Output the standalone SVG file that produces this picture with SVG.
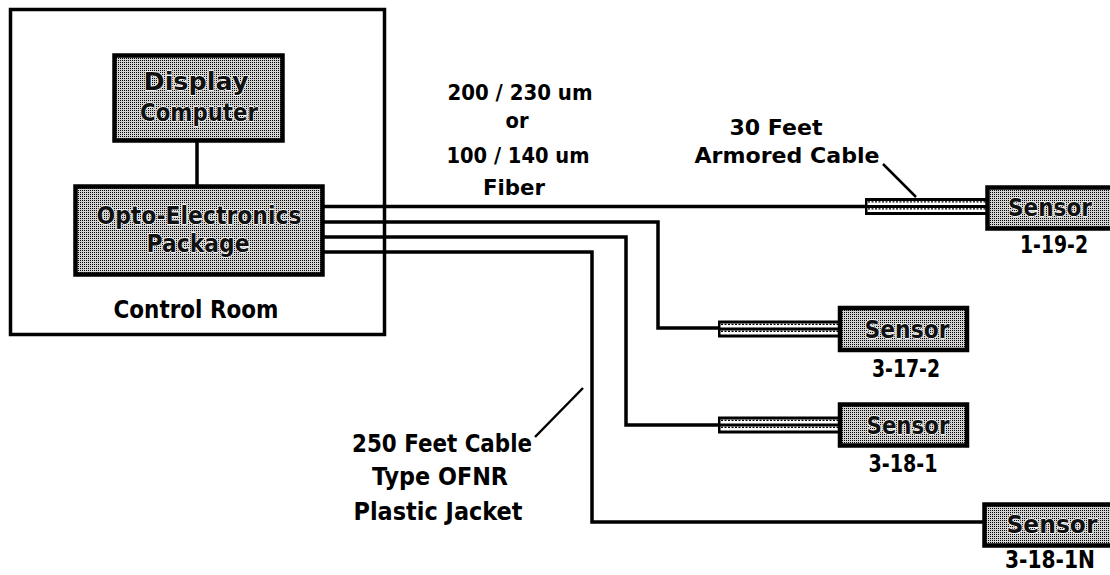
<svg xmlns="http://www.w3.org/2000/svg" width="1110" height="575" viewBox="0 0 1110 575">
<style>
  .bg{fill:#ffffff}
  .frame{fill:none;stroke:#000;stroke-width:3.5}
  .box{fill:url(#dither);stroke:#000;stroke-width:4.5}
  .wire{fill:none;stroke:#000;stroke-width:3.5;stroke-linejoin:miter;stroke-linecap:square}
  .leader{fill:none;stroke:#000;stroke-width:2.5}
  .t{font-family:"DejaVu Sans","Liberation Sans",sans-serif;font-weight:bold;font-size:24px;fill:#000;text-anchor:middle}
  .tight{font-size:22px}
  .s{font-size:23px}
  .in{font-family:"DejaVu Sans","Liberation Sans",sans-serif;font-weight:bold;font-size:24px;fill:#111;text-anchor:middle;stroke:#fff;stroke-width:1.5;paint-order:stroke;stroke-linejoin:round}
  .arm-out{fill:#000}
  .arm-in{fill:#fff}
  .arm-wave{fill:none;stroke:#000;stroke-width:1.2;stroke-dasharray:2 1.5}
</style>
<defs>
  <pattern id="dither" width="2" height="2" patternUnits="userSpaceOnUse">
    <rect width="2" height="2" fill="#d2d2d2"/>
    <rect width="1" height="1" fill="#000"/>
  </pattern>
  <g id="armored">
    <rect class="arm-out" x="0" y="0" width="122" height="17"/>
    <rect class="arm-in" x="2.5" y="3" width="119.5" height="4"/>
    <rect class="arm-in" x="2.5" y="10" width="119.5" height="4"/>
    <line class="arm-wave" x1="3" y1="3.9" x2="122" y2="3.9"/>
    <line class="arm-wave" x1="3" y1="10.9" x2="122" y2="10.9"/>
  </g>
</defs>
<rect class="bg" x="0" y="0" width="1110" height="575"/>

<g id="control-room">
  <rect class="frame" x="10.5" y="9.5" width="374" height="325"/>
  <text class="t" x="196" y="318" textLength="165" lengthAdjust="spacingAndGlyphs">Control Room</text>
</g>

<g id="connectors">
  <line class="wire" x1="197" y1="142" x2="197" y2="185"/>
  <polyline class="wire" points="325,206.5 866,206.5"/>
  <polyline class="wire" points="325,222 658,222 658,328 718,328"/>
  <polyline class="wire" points="325,237 626,237 626,425 718,425"/>
  <polyline class="wire" points="325,252 592,252 592,522 984,522"/>
  <line class="leader" x1="883" y1="164" x2="916" y2="197"/>
  <line class="leader" x1="535" y1="437" x2="583" y2="388"/>
</g>

<g id="display-computer">
  <rect class="box" x="114.5" y="55.5" width="168" height="85"/>
  <text class="in" x="196" y="90" textLength="105" lengthAdjust="spacingAndGlyphs">Display</text>
  <text class="in" x="199" y="121" textLength="118" lengthAdjust="spacingAndGlyphs">Computer</text>
</g>

<g id="opto-electronics">
  <rect class="box" x="75.5" y="186.5" width="247" height="88"/>
  <text class="in" x="199" y="224" textLength="205" lengthAdjust="spacingAndGlyphs">Opto-Electronics</text>
  <text class="in" x="198" y="252" textLength="103" lengthAdjust="spacingAndGlyphs">Package</text>
</g>

<g id="fiber-label">
  <text class="t tight" x="520" y="100" textLength="145" lengthAdjust="spacingAndGlyphs">200 / 230 um</text>
  <text class="t tight" x="517" y="128" textLength="23" lengthAdjust="spacingAndGlyphs">or</text>
  <text class="t tight" x="518" y="163" textLength="143" lengthAdjust="spacingAndGlyphs">100 / 140 um</text>
  <text class="t tight" x="514" y="195" textLength="62" lengthAdjust="spacingAndGlyphs">Fiber</text>
</g>

<g id="armored-label">
  <text class="t tight" x="776" y="135" textLength="93" lengthAdjust="spacingAndGlyphs">30 Feet</text>
  <text class="t tight" x="787" y="163" textLength="185" lengthAdjust="spacingAndGlyphs">Armored Cable</text>
</g>

<g id="cable-label">
  <text class="t" x="442" y="452" textLength="180" lengthAdjust="spacingAndGlyphs">250 Feet Cable</text>
  <text class="t" x="440" y="485" textLength="136" lengthAdjust="spacingAndGlyphs">Type OFNR</text>
  <text class="t" x="438" y="520" textLength="169" lengthAdjust="spacingAndGlyphs">Plastic Jacket</text>
</g>

<g id="sensor-1-19-2">
  <use href="#armored" x="865" y="198"/>
  <rect class="box" x="987.5" y="187.5" width="140" height="41"/>
  <text class="in s" x="1050" y="216" textLength="84" lengthAdjust="spacingAndGlyphs">Sensor</text>
  <text class="t" x="1054" y="253" textLength="68" lengthAdjust="spacingAndGlyphs">1-19-2</text>
</g>

<g id="sensor-3-17-2">
  <use href="#armored" x="718" y="320.5"/>
  <rect class="box" x="840" y="308" width="127" height="42"/>
  <text class="in s" x="907" y="338" textLength="85" lengthAdjust="spacingAndGlyphs">Sensor</text>
  <text class="t" x="906" y="377" textLength="68" lengthAdjust="spacingAndGlyphs">3-17-2</text>
</g>

<g id="sensor-3-18-1">
  <use href="#armored" x="718" y="416.5"/>
  <rect class="box" x="840" y="404.5" width="127" height="41"/>
  <text class="in s" x="908" y="434" textLength="83" lengthAdjust="spacingAndGlyphs">Sensor</text>
  <text class="t" x="903" y="472" textLength="69" lengthAdjust="spacingAndGlyphs">3-18-1</text>
</g>

<g id="sensor-3-18-1N">
  <rect class="box" x="984.5" y="504.5" width="140" height="41"/>
  <text class="in s" x="1052" y="533" textLength="91" lengthAdjust="spacingAndGlyphs">Sensor</text>
  <text class="t" x="1050" y="568" textLength="90" lengthAdjust="spacingAndGlyphs">3-18-1N</text>
</g>
</svg>
